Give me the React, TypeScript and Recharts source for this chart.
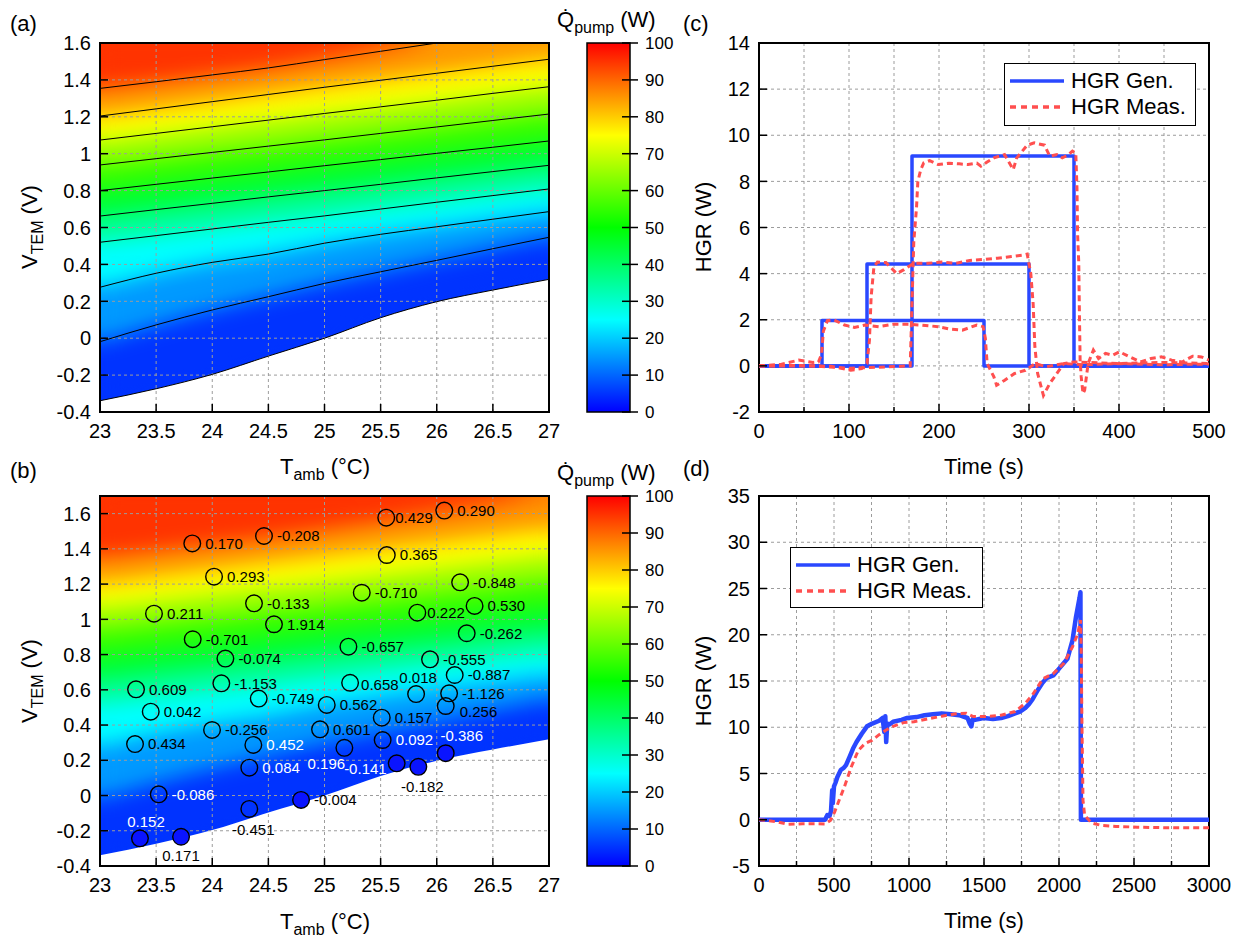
import React from 'react';
import {
  ComposedChart,
  LineChart,
  BarChart,
  Line,
  Area,
  Bar,
  Scatter,
  XAxis,
  YAxis,
  CartesianGrid,
  ReferenceArea,
  Legend,
} from 'recharts';

const W = 1244;
const H = 940;
const FONT = '"Liberation Sans", Arial, Helvetica, sans-serif';
const BLUE = '#2a48ff';
const RED = '#ff4f4f';
const GRID = '#9c9c9c';

// ---- (a)/(b) Q_pump map: contour lines read at each T_amb ----
const T_AMB = [23, 23.5, 24, 24.5, 25, 25.5, 26, 26.5, 27];
const EDGE_0W = [-0.339, -0.274, -0.196, -0.097, 0.0, 0.111, 0.198, 0.261, 0.319];
const CONTOUR_10W = [-0.019, 0.072, 0.153, 0.225, 0.297, 0.36, 0.422, 0.485, 0.547];
const CONTOUR_20W = [0.276, 0.352, 0.411, 0.456, 0.515, 0.563, 0.604, 0.645, 0.686];
const CONTOUR_30W = [0.52, 0.556, 0.592, 0.628, 0.663, 0.7, 0.737, 0.773, 0.809];
const CONTOUR_40W = [0.662, 0.697, 0.731, 0.766, 0.8, 0.834, 0.869, 0.903, 0.937];
const CONTOUR_50W = [0.8, 0.834, 0.868, 0.901, 0.935, 0.968, 1.002, 1.035, 1.069];
const CONTOUR_60W = [0.939, 0.973, 1.007, 1.041, 1.075, 1.11, 1.145, 1.18, 1.215];
const CONTOUR_70W = [1.074, 1.11, 1.146, 1.182, 1.218, 1.254, 1.29, 1.327, 1.363];
const CONTOUR_80W = [1.204, 1.243, 1.282, 1.321, 1.36, 1.398, 1.436, 1.474, 1.512];
const CONTOUR_90W = [1.354, 1.39, 1.427, 1.465, 1.51, 1.555, 1.6, 1.645, 1.69];
const CONTOURS = [
  EDGE_0W, CONTOUR_10W, CONTOUR_20W, CONTOUR_30W, CONTOUR_40W,
  CONTOUR_50W, CONTOUR_60W, CONTOUR_70W, CONTOUR_80W, CONTOUR_90W,
];
const Q_LEVELS = [0, 10, 20, 30, 40, 50, 60, 70, 80, 90];

const T_TICKS = [23, 23.5, 24, 24.5, 25, 25.5, 26, 26.5, 27];
const V_TICKS = [-0.4, -0.2, 0, 0.2, 0.4, 0.6, 0.8, 1, 1.2, 1.4, 1.6];
const Q_TICKS = [0, 10, 20, 30, 40, 50, 60, 70, 80, 90, 100];
const Q_RANGE = [{ k: 'Q', top: 100 }];

// ---- (b) validation points ----
const PT_T = [
  23.822, 24.461, 24.016, 23.481, 24.372, 24.55, 23.826, 24.117, 24.081, 23.321,
  23.452, 24.414, 23.998, 23.312, 24.366, 24.33, 23.523, 24.33, 24.791, 23.356,
  23.722, 25.02, 24.96, 25.177, 25.643, 25.836, 25.51, 25.518, 26.08, 25.816,
  26.11, 26.08, 25.228, 26.16, 25.94, 25.213, 26.267, 25.827, 26.337, 26.208,
  25.332, 25.555, 25.55, 26.067,
];
const PT_V = [
  1.431, 1.473, 1.242, 1.032, 1.091, 0.972, 0.887, 0.777, 0.637, 0.603,
  0.476, 0.55, 0.372, 0.292, 0.287, 0.158, 0.007, -0.076, -0.025, -0.243,
  -0.234, 0.514, 0.376, 0.271, 0.183, 0.163, 0.442, 0.315, 0.24, 0.576,
  0.58, 0.508, 0.64, 0.684, 0.773, 0.845, 0.921, 1.038, 1.076, 1.21,
  1.151, 1.365, 1.577, 1.617,
];
const PT_LABEL = [
  '0.170', '-0.208', '0.293', '0.211', '-0.133', '1.914', '-0.701', '-0.074', '-1.153', '0.609',
  '0.042', '-0.749', '-0.256', '0.434', '0.452', '0.084', '-0.086', '-0.451', '-0.004', '0.152',
  '0.171', '0.562', '0.601', '0.196', '-0.141', '-0.182', '0.157', '0.092', '-0.386', '0.018',
  '-1.126', '0.256', '0.658', '-0.887', '-0.555', '-0.657', '-0.262', '0.222', '0.530', '-0.848',
  '-0.710', '0.365', '0.429', '0.290',
];

// ---- (c) step tests ----
const GEN1_T = [0, 70, 70, 250, 250, 500];
const GEN1_W = [0, 0, 1.97, 1.97, 0, 0];
const GEN2_T = [0, 120, 120, 300, 300, 500];
const GEN2_W = [0, 0, 4.42, 4.42, 0, 0];
const GEN3_T = [0, 170, 170, 350, 350, 500];
const GEN3_W = [0, 0, 9.1, 9.1, 0, 0];

const MEAS1_T = [0, 25, 44, 60, 66, 69.5, 71.5, 76, 83, 95, 106, 118, 133, 149, 165, 180, 199, 211, 226, 242, 249, 251.5, 253.5, 261, 264, 273, 284, 296, 307, 319, 338, 360, 400, 450, 500];
const MEAS1_W = [0, 0.07, 0.25, 0.15, 0.17, 0.5, 1.5, 1.96, 2.0, 1.77, 1.67, 1.77, 1.7, 1.8, 1.8, 1.77, 1.7, 1.6, 1.55, 1.77, 1.7, 1.2, 0.1, -0.48, -0.84, -0.62, -0.33, -0.19, 0.1, -0.04, 0.1, 0.05, 0.1, 0.05, 0.08];
const MEAS2_T = [0, 40, 80, 102, 114, 120, 122.7, 124.6, 127.7, 131.6, 141, 153, 160.6, 172, 187.7, 203, 218.7, 234, 249.6, 265, 280.6, 292, 298, 302, 304.6, 306.5, 309.6, 313.5, 316, 323, 331, 338.6, 350, 400, 450, 500];
const MEAS2_W = [0, 0.02, -0.02, -0.19, -0.12, 0.1, 1.1, 3.0, 4.3, 4.5, 4.48, 4.0, 4.16, 4.45, 4.45, 4.5, 4.45, 4.57, 4.62, 4.67, 4.74, 4.8, 4.85, 4.0, 2.7, 0.83, -0.33, -0.91, -1.28, -0.77, -0.33, 0.1, 0.17, 0.1, 0.15, 0.1];
const MEAS3_T = [0, 60, 100, 140, 168, 172, 175, 176.5, 179.7, 183, 189.6, 199, 211, 222.5, 232.2, 242, 246.5, 253.5, 261, 272.8, 282.5, 286.4, 298, 305.8, 317.3, 323, 331, 337, 343, 348.3, 352, 353.3, 354, 355.3, 356, 356.8, 358, 360, 361.8, 365.7, 371.5, 377.3, 385, 392.8, 400.5, 412, 423.8, 435.4, 447, 458.6, 470.2, 481.8, 491.5, 500];
const MEAS3_W = [0, 0, -0.1, -0.05, 0, 5.4, 6.85, 8.0, 8.5, 8.8, 8.9, 8.73, 8.79, 8.76, 8.73, 8.79, 8.66, 8.84, 9.02, 9.16, 8.51, 9.02, 9.57, 9.67, 9.57, 9.09, 9.16, 9.02, 9.13, 9.31, 9.23, 7.7, 5.7, 4.45, 2.3, 0.25, -0.48, -1.2, -1.06, 0.1, 0.68, 0.32, 0.54, 0.46, 0.61, 0.39, 0.17, 0.32, 0.39, 0.25, 0.17, 0.42, 0.39, 0.25];

// ---- (d) ramp test ----
const GEN_D_T = [0, 440, 455, 470, 480, 488, 492, 500, 510, 522, 546, 565, 580, 604, 627, 650, 685, 720, 755, 801, 824, 835, 842, 848, 855, 870, 894, 950, 987, 1050, 1103, 1160, 1219, 1280, 1335, 1390, 1405, 1416, 1425, 1440, 1498, 1560, 1614, 1660, 1707, 1740, 1776, 1800, 1823, 1858, 1890, 1916, 1962, 2009, 2056, 2090, 2113, 2137, 2143, 2146, 2200, 3000];
const GEN_D_W = [0, 0, 0.5, 0.4, 0.9, 3.2, 1.8, 3.6, 4.0, 4.6, 5.4, 5.6, 5.9, 6.8, 7.7, 8.4, 9.3, 10.1, 10.4, 10.7, 11.0, 9.5, 11.2, 8.4, 10.4, 10.3, 10.6, 10.8, 11.0, 11.1, 11.3, 11.4, 11.5, 11.4, 11.3, 11.0, 10.4, 10.1, 10.9, 10.8, 11.0, 10.9, 11.0, 11.2, 11.5, 11.7, 12.1, 12.5, 13.0, 14.0, 14.8, 15.3, 15.6, 16.5, 17.4, 19.4, 21.9, 24.0, 24.6, 0, 0, 0];
const MEAS_D_T = [0, 60, 128, 197, 290, 383, 441, 476, 504, 534, 569, 615, 662, 708, 755, 801, 848, 894, 964, 1033, 1126, 1219, 1312, 1382, 1428, 1521, 1614, 1707, 1776, 1823, 1893, 1962, 2032, 2090, 2125, 2143, 2148, 2153, 2160, 2171, 2218, 2287, 2380, 2520, 2729, 3000];
const MEAS_D_W = [0, -0.1, -0.25, -0.5, -0.43, -0.43, -0.45, -0.07, 0.83, 2.1, 3.55, 5.7, 7.5, 8.26, 8.6, 9.2, 9.7, 10.1, 10.5, 10.6, 10.9, 11.2, 11.45, 11.5, 11.15, 11.15, 11.3, 11.7, 12.6, 13.5, 15.25, 15.8, 16.9, 18.7, 20.1, 21.6, 18.3, 10.4, 2.1, 0.47, -0.36, -0.62, -0.72, -0.8, -0.87, -0.87];

// ---- derived tables ----
const FIELD_ROWS = T_AMB.map((t, i) => {
  const row: any = { t };
  CONTOURS.forEach((c, k) => {
    row['c' + k] = c[i];
  });
  return row;
});
const POINT_ROWS = PT_T.map((t, i) => ({ t, v: PT_V[i], label: PT_LABEL[i] }));
const zip = (ts: number[], ws: number[]) => ts.map((t, i) => ({ t, w: ws[i] }));
const GEN_C = [zip(GEN1_T, GEN1_W), zip(GEN2_T, GEN2_W), zip(GEN3_T, GEN3_W)];
const MEAS_C = [zip(MEAS1_T, MEAS1_W), zip(MEAS2_T, MEAS2_W), zip(MEAS3_T, MEAS3_W)];

// label placement / look for the (b) markers
const LABEL_PLACE: Record<string, { dx: number; dy: number; anchor?: string }> = {
  '-0.451': { dx: 4, dy: 21, anchor: 'middle' },
  '0.152': { dx: 6, dy: -17, anchor: 'middle' },
  '0.171': { dx: 0, dy: 19, anchor: 'middle' },
  '0.196': { dx: -18, dy: 16, anchor: 'middle' },
  '-0.141': { dx: -10, dy: 5, anchor: 'end' },
  '-0.182': { dx: 4, dy: 20, anchor: 'middle' },
  '-0.386': { dx: 16, dy: -18, anchor: 'middle' },
  '0.018': { dx: 2, dy: -16, anchor: 'middle' },
  '0.256': { dx: 14, dy: 6 },
  '0.429': { dx: 9, dy: 0 },
  '0.222': { dx: 10, dy: 0 },
  '0.658': { dx: 11, dy: 2 },
};
const WHITE_LABELS = new Set(['0.452', '0.084', '-0.086', '0.152', '0.196', '-0.141', '0.092', '-0.386']);
const FILLED_MARKS = new Set(['0.152', '0.171', '-0.004', '-0.141', '-0.182', '-0.386']);

// plot rectangles (page pixels)
type Rect = { x: number; y: number; w: number; h: number };
const PLOT_A: Rect = { x: 100, y: 43, w: 449, h: 369 };
const PLOT_B: Rect = { x: 100, y: 496, w: 449, h: 370 };
const PLOT_C: Rect = { x: 759, y: 43, w: 450, h: 369 };
const PLOT_D: Rect = { x: 759, y: 496, w: 450, h: 370 };
const BAR_A: Rect = { x: 587, y: 43, w: 43, h: 369 };
const BAR_B: Rect = { x: 587, y: 496, w: 43, h: 370 };

// axes that are drawn take 1px (an axis of size 0 is not rendered), so the margin gives it back
const marginFor = (p: Rect, axisLeft = 0, axisBottom = 0, axisRight = 0) => ({
  left: p.x - axisLeft,
  top: p.y,
  right: W - p.x - p.w - axisRight,
  bottom: H - p.y - p.h - axisBottom,
});

const CMAP: [number, number[]][] = [
  [0, [0, 0, 255]],
  [25, [0, 255, 255]],
  [50, [0, 255, 0]],
  [75, [255, 255, 0]],
  [100, [255, 0, 0]],
];
function qColor(q: number) {
  for (let i = 1; i < CMAP.length; i++) {
    const [q0, c0] = CMAP[i - 1];
    const [q1, c1] = CMAP[i];
    if (q <= q1) {
      const f = (q - q0) / (q1 - q0);
      const c = c0.map((v, j) => Math.round(v + (c1[j] - v) * f));
      return `rgb(${c.join(',')})`;
    }
  }
  return 'rgb(255,0,0)';
}

// ---- ticks (drawn inward, like the original) ----
const bottomTick = (isMinor: (v: number) => boolean) => (p: any) => {
  const { x, y, payload } = p;
  const minor = isMinor(payload.value);
  return (
    <g>
      <line x1={x} x2={x} y1={y} y2={y - (minor ? 5 : 8)} stroke="#000" strokeWidth={1.5} />
      {!minor && (
        <text x={x} y={y + 26} textAnchor="middle" fontSize={20} fontFamily={FONT} fill="#000">
          {payload.value}
        </text>
      )}
    </g>
  );
};
const leftTick = (p: any) => {
  const { x, y, payload } = p;
  return (
    <g>
      <line x1={x} x2={x + 8} y1={y} y2={y} stroke="#000" strokeWidth={1.5} />
      <text x={x - 9} y={y} dy="0.36em" textAnchor="end" fontSize={20} fontFamily={FONT} fill="#000">
        {payload.value}
      </text>
    </g>
  );
};
const barTick = (p: any) => {
  const { x, y, payload } = p;
  return (
    <g>
      <line x1={x - 8} x2={x + 8} y1={y} y2={y} stroke="#000" strokeWidth={1.5} />
      <text x={x + 15} y={y} dy="0.36em" fontSize={17} fontFamily={FONT} fill="#000">
        {payload.value}
      </text>
    </g>
  );
};
const noMinor = () => false;

const layer: React.CSSProperties = { position: 'absolute', left: 0, top: 0 };

// colour bands between contour lines, blurred into a continuous map
function FieldBands({ plot, yTop }: { plot: Rect; yTop: number }) {
  return (
    <div style={{ position: 'absolute', left: plot.x, top: plot.y, width: plot.w, height: plot.h, overflow: 'hidden' }}>
      <div style={{ position: 'absolute', left: -plot.x, top: -plot.y, filter: 'url(#field-smooth)' }}>
        <ComposedChart width={W} height={H} data={FIELD_ROWS} margin={marginFor(plot)}>
          <XAxis type="number" dataKey="t" domain={[23, 27]} hide allowDataOverflow />
          <YAxis type="number" domain={[-0.4, yTop]} hide allowDataOverflow />
          {Q_LEVELS.map((q, k) => (
            <Area
              key={q}
              type="monotone"
              dataKey={(r: any) => [r['c' + k], k < Q_LEVELS.length - 1 ? r['c' + (k + 1)] : yTop]}
              fill={qColor(q + 5)}
              fillOpacity={1}
              stroke="none"
              dot={false}
              activeDot={false}
              isAnimationActive={false}
            />
          ))}
        </ComposedChart>
      </div>
    </div>
  );
}

// white region where no cooling is possible
function FieldMask({ plot, yTop }: { plot: Rect; yTop: number }) {
  return (
    <div style={layer}>
      <ComposedChart width={W} height={H} data={FIELD_ROWS} margin={marginFor(plot)}>
        <XAxis type="number" dataKey="t" domain={[23, 27]} hide allowDataOverflow />
        <YAxis type="number" domain={[-0.4, yTop]} hide allowDataOverflow />
        <Area
          type="monotone"
          dataKey={(r: any) => [-0.4, r.c0]}
          fill="#ffffff"
          fillOpacity={1}
          stroke="none"
          dot={false}
          activeDot={false}
          isAnimationActive={false}
        />
      </ComposedChart>
    </div>
  );
}

const PointMark = (p: any) => {
  const { cx, cy, payload } = p;
  if (cx == null || cy == null) return null;
  const place = LABEL_PLACE[payload.label] ?? { dx: 13, dy: 0 };
  return (
    <g>
      <circle
        cx={cx}
        cy={cy}
        r={8.3}
        fill={FILLED_MARKS.has(payload.label) ? '#0a14ff' : 'none'}
        stroke="#000"
        strokeWidth={1.4}
      />
      <text
        x={cx + place.dx}
        y={cy + place.dy}
        dy="0.36em"
        textAnchor={(place.anchor as any) ?? 'start'}
        fontSize={15}
        fontFamily={FONT}
        fill={WHITE_LABELS.has(payload.label) ? '#ffffff' : '#000000'}
      >
        {payload.label}
      </text>
    </g>
  );
};

function MapOverlay({ plot, yTop, withContours }: { plot: Rect; yTop: number; withContours: boolean }) {
  return (
    <div style={layer}>
      <ComposedChart width={W} height={H} data={FIELD_ROWS} margin={marginFor(plot, 1, 1)}>
        <CartesianGrid stroke={GRID} strokeDasharray="3 3" />
        <XAxis
          type="number"
          dataKey="t"
          domain={[23, 27]}
          ticks={T_TICKS}
          interval={0}
          allowDataOverflow
          height={1}
          axisLine={false}
          tickLine={false}
          tickSize={0}
          tickMargin={0}
          tick={bottomTick(noMinor)}
        />
        <YAxis
          type="number"
          dataKey="v"
          domain={[-0.4, yTop]}
          ticks={V_TICKS}
          interval={0}
          allowDataOverflow
          width={1}
          axisLine={false}
          tickLine={false}
          tickSize={0}
          tickMargin={0}
          tick={leftTick}
        />
        {withContours &&
          Q_LEVELS.map((q, k) => (
            <Line
              key={q}
              type="monotone"
              dataKey={'c' + k}
              stroke="#000"
              strokeWidth={1}
              dot={false}
              activeDot={false}
              legendType="none"
              isAnimationActive={false}
            />
          ))}
        {!withContours && (
          <Scatter data={POINT_ROWS} dataKey="v" shape={PointMark} legendType="none" isAnimationActive={false} />
        )}
        <ReferenceArea x1={23} x2={27} y1={-0.4} y2={yTop} fill="none" stroke="#000" strokeWidth={2} ifOverflow="visible" />
      </ComposedChart>
    </div>
  );
}

function ColorBar({ plot }: { plot: Rect }) {
  return (
    <div style={layer}>
      <BarChart width={W} height={H} data={Q_RANGE} margin={marginFor(plot, 0, 0, 1)} barCategoryGap={0}>
        <XAxis dataKey="k" type="category" hide />
        <YAxis
          type="number"
          orientation="right"
          domain={[0, 100]}
          ticks={Q_TICKS}
          interval={0}
          width={1}
          axisLine={false}
          tickLine={false}
          tickSize={0}
          tickMargin={0}
          tick={barTick}
        />
        <Bar dataKey="top" fill="url(#qbar)" stroke="#000" strokeWidth={1.5} isAnimationActive={false} />
      </BarChart>
    </div>
  );
}

const HgrLegend = ({ payload, width, height }: any) => {
  const seen = new Set<string>();
  const items = (payload || []).filter((e: any) => {
    if (e.type === 'none' || seen.has(e.value)) return false;
    seen.add(e.value);
    return true;
  });
  return (
    <div
      style={{
        width,
        height,
        boxSizing: 'border-box',
        border: '1.5px solid #000',
        background: '#fff',
        padding: '4px 4px',
        fontFamily: FONT,
        fontSize: 22,
        color: '#000',
      }}
    >
      {items.map((e: any) => (
        <div key={e.value} style={{ display: 'flex', alignItems: 'center', height: 26 }}>
          <svg width={56} height={10} style={{ flex: 'none' }}>
            <line
              x1={1}
              x2={55}
              y1={5}
              y2={5}
              stroke={e.color}
              strokeWidth={3.5}
              strokeDasharray={String(e.value).includes('Meas') ? '6 5' : undefined}
            />
          </svg>
          <span style={{ marginLeft: 6, whiteSpace: 'nowrap' }}>{e.value}</span>
        </div>
      ))}
    </div>
  );
};

function HgrPanel({
  plot,
  xMax,
  xTicks,
  majorStep,
  yDomain,
  yTicks,
  gen,
  meas,
  genWidth,
  legendAt,
}: {
  plot: Rect;
  xMax: number;
  xTicks: number[];
  majorStep: number;
  yDomain: [number, number];
  yTicks: number[];
  gen: { t: number; w: number }[][];
  meas: { t: number; w: number }[][];
  genWidth: number;
  legendAt: { left: number; top: number; width: number; height: number };
}) {
  return (
    <div style={layer}>
      <LineChart width={W} height={H} margin={marginFor(plot, 1, 1)}>
        <CartesianGrid stroke={GRID} strokeDasharray="3 3" />
        <XAxis
          type="number"
          dataKey="t"
          domain={[0, xMax]}
          ticks={xTicks}
          interval={0}
          allowDataOverflow
          height={1}
          axisLine={false}
          tickLine={false}
          tickSize={0}
          tickMargin={0}
          tick={bottomTick((v) => v % majorStep !== 0)}
        />
        <YAxis
          type="number"
          domain={yDomain}
          ticks={yTicks}
          interval={0}
          allowDataOverflow
          width={1}
          axisLine={false}
          tickLine={false}
          tickSize={0}
          tickMargin={0}
          tick={leftTick}
        />
        {gen.map((rows, i) => (
          <Line
            key={'g' + i}
            data={rows}
            dataKey="w"
            name="HGR Gen."
            type="linear"
            stroke={BLUE}
            strokeWidth={genWidth}
            strokeLinejoin="round"
            dot={false}
            activeDot={false}
            legendType={i === 0 ? 'line' : 'none'}
            isAnimationActive={false}
          />
        ))}
        {meas.map((rows, i) => (
          <Line
            key={'m' + i}
            data={rows}
            dataKey="w"
            name="HGR Meas."
            type="linear"
            stroke={RED}
            strokeWidth={3}
            strokeDasharray="6 4"
            dot={false}
            activeDot={false}
            legendType={i === 0 ? 'line' : 'none'}
            isAnimationActive={false}
          />
        ))}
        <ReferenceArea x1={0} x2={xMax} y1={yDomain[0]} y2={yDomain[1]} fill="none" stroke="#000" strokeWidth={2} ifOverflow="visible" />
        <Legend
          layout="vertical"
          align="center"
          verticalAlign="middle"
          content={<HgrLegend width={legendAt.width} height={legendAt.height} />}
          wrapperStyle={{ left: legendAt.left, top: legendAt.top, width: legendAt.width, height: legendAt.height }}
        />
      </LineChart>
    </div>
  );
}

const C_X_TICKS = Array.from({ length: 11 }, (_, i) => i * 50);
const C_Y_TICKS = [-2, 0, 2, 4, 6, 8, 10, 12, 14];
const D_X_TICKS = Array.from({ length: 13 }, (_, i) => i * 250);
const D_Y_TICKS = [-5, 0, 5, 10, 15, 20, 25, 30, 35];

const Titles = () => (
  <svg width={W} height={H} style={{ ...layer, pointerEvents: 'none' }} fontFamily={FONT} fill="#000">
    <text x={10} y={31} fontSize={22}>(a)</text>
    <text x={10} y={478} fontSize={22}>(b)</text>
    <text x={683} y={31} fontSize={22}>(c)</text>
    <text x={683} y={476} fontSize={22}>(d)</text>

    <text x={325} y={474} textAnchor="middle" fontSize={22}>
      T<tspan dy={6} fontSize={16}>amb</tspan>
      <tspan dy={-6}> (°C)</tspan>
    </text>
    <text x={325} y={929} textAnchor="middle" fontSize={22}>
      T<tspan dy={6} fontSize={16}>amb</tspan>
      <tspan dy={-6}> (°C)</tspan>
    </text>
    <text x={984} y={474} textAnchor="middle" fontSize={22}>Time (s)</text>
    <text x={984} y={928} textAnchor="middle" fontSize={22}>Time (s)</text>

    <text transform="translate(37,227) rotate(-90)" textAnchor="middle" fontSize={22}>
      V<tspan dy={6} fontSize={16}>TEM</tspan>
      <tspan dy={-6}> (V)</tspan>
    </text>
    <text transform="translate(37,681) rotate(-90)" textAnchor="middle" fontSize={22}>
      V<tspan dy={6} fontSize={16}>TEM</tspan>
      <tspan dy={-6}> (V)</tspan>
    </text>
    <text transform="translate(711,227) rotate(-90)" textAnchor="middle" fontSize={22}>HGR (W)</text>
    <text transform="translate(711,681) rotate(-90)" textAnchor="middle" fontSize={22}>HGR (W)</text>

    <text x={557} y={27} fontSize={22}>
      {'Q\u0307'}
      <tspan dy={6} fontSize={16}>pump</tspan>
      <tspan dy={-6}> (W)</tspan>
    </text>
    <text x={557} y={480} fontSize={22}>
      {'Q\u0307'}
      <tspan dy={6} fontSize={16}>pump</tspan>
      <tspan dy={-6}> (W)</tspan>
    </text>
  </svg>
);

export default function App() {
  return (
    <div style={{ position: 'absolute', left: 0, top: 0, width: W, height: H, background: '#fff', overflow: 'hidden', fontFamily: FONT }}>
      <svg width={0} height={0} style={{ position: 'absolute' }}>
        <defs>
          <filter id="field-smooth" x="-5%" y="-5%" width="110%" height="110%" colorInterpolationFilters="sRGB">
            <feGaussianBlur stdDeviation={10} />
            <feComponentTransfer>
              <feFuncA type="linear" slope={40} intercept={0} />
            </feComponentTransfer>
          </filter>
          <linearGradient id="qbar" x1="0" y1="1" x2="0" y2="0">
            {CMAP.map(([q, c]) => (
              <stop key={q} offset={q / 100} stopColor={`rgb(${c.join(',')})`} />
            ))}
          </linearGradient>
        </defs>
      </svg>

      <FieldBands plot={PLOT_A} yTop={1.6} />
      <FieldBands plot={PLOT_B} yTop={1.7} />
      <FieldMask plot={PLOT_A} yTop={1.6} />
      <FieldMask plot={PLOT_B} yTop={1.7} />
      <MapOverlay plot={PLOT_A} yTop={1.6} withContours />
      <MapOverlay plot={PLOT_B} yTop={1.7} withContours={false} />
      <ColorBar plot={BAR_A} />
      <ColorBar plot={BAR_B} />

      <HgrPanel
        plot={PLOT_C}
        xMax={500}
        xTicks={C_X_TICKS}
        majorStep={100}
        yDomain={[-2, 14]}
        yTicks={C_Y_TICKS}
        gen={GEN_C}
        meas={MEAS_C}
        genWidth={3.5}
        legendAt={{ left: 1004, top: 63, width: 192, height: 63 }}
      />
      <HgrPanel
        plot={PLOT_D}
        xMax={3000}
        xTicks={D_X_TICKS}
        majorStep={500}
        yDomain={[-5, 35]}
        yTicks={D_Y_TICKS}
        gen={[zip(GEN_D_T, GEN_D_W)]}
        meas={[zip(MEAS_D_T, MEAS_D_W)]}
        genWidth={4.5}
        legendAt={{ left: 790, top: 547, width: 193, height: 61 }}
      />

      <Titles />
    </div>
  );
}
